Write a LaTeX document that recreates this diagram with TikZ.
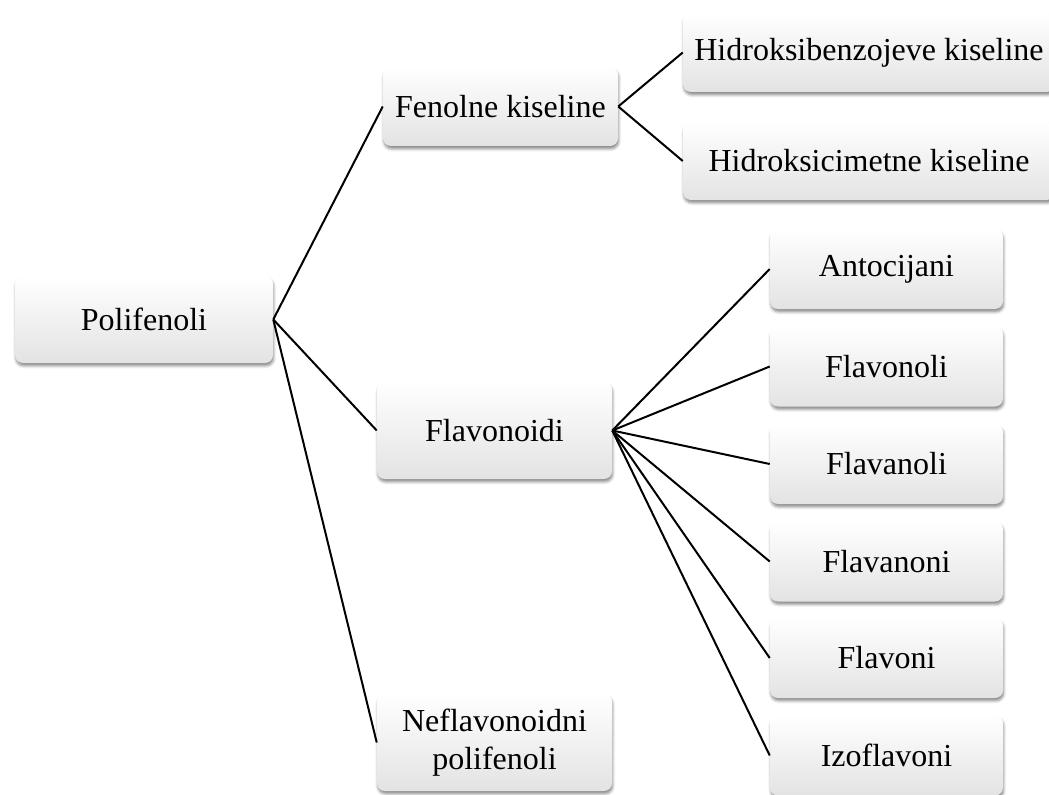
\documentclass[tikz,border=0pt]{standalone}
\usepackage{fontspec}
\setmainfont{Liberation Serif}
\usetikzlibrary{shadows.blur}
\begin{document}
\begin{tikzpicture}[x=0.75pt,y=-0.75pt,
  box/.style={draw=none, rounded corners=6pt, top color=white, middle color=white,
    bottom color=black!11, font=\fontsize{24}{28}\selectfont, align=center, inner sep=0pt,
    blur shadow={shadow xshift=0.6pt, shadow yshift=-2.2pt, shadow blur radius=2pt, shadow opacity=45}},
  link/.style={line width=1.5pt, black}]
\useasboundingbox (0,0) rectangle (1049,795);
\clip (0,0) rectangle (1049,795);
\node[box, minimum width=193.5pt, minimum height=65.25pt] (poli) at (144,319.5) {Polifenoli};
\node[box, minimum width=176.25pt, minimum height=59.25pt] (fen) at (500.5,106.5) {Fenolne kiseline};
\node[box, minimum width=279pt, minimum height=59.25pt] (hb) at (869,52.5) {Hidroksibenzojeve kiseline};
\node[box, minimum width=279pt, minimum height=58.5pt] (hc) at (869,161) {Hidroksicimetne kiseline};
\node[box, minimum width=176.25pt, minimum height=72.75pt] (flav) at (494.5,430.5) {Flavonoidi};
\node[box, minimum width=176.25pt, minimum height=72.75pt] (nef) at (494.5,742.5) {Neflavonoidni\\polifenoli};
\node[box, minimum width=174.75pt, minimum height=60pt] (ant) at (886.5,269) {Antocijani};
\node[box, minimum width=174.75pt, minimum height=60pt] (fnl) at (886.5,366.5) {Flavonoli};
\node[box, minimum width=174.75pt, minimum height=60pt] (fal) at (886.5,464) {Flavanoli};
\node[box, minimum width=174.75pt, minimum height=60pt] (fan) at (886.5,561.5) {Flavanoni};
\node[box, minimum width=174.75pt, minimum height=60pt] (fvi) at (886.5,658) {Flavoni};
\node[box, minimum width=174.75pt, minimum height=60pt] (izo) at (886.5,755.5) {Izoflavoni};
\foreach \t in {fen,flav,nef} \draw[link] (poli.east) -- (\t.west);
\foreach \t in {hb,hc} \draw[link] (fen.east) -- (\t.west);
\foreach \t in {ant,fnl,fal,fan,fvi,izo} \draw[link] (flav.east) -- (\t.west);
\end{tikzpicture}
\end{document}
